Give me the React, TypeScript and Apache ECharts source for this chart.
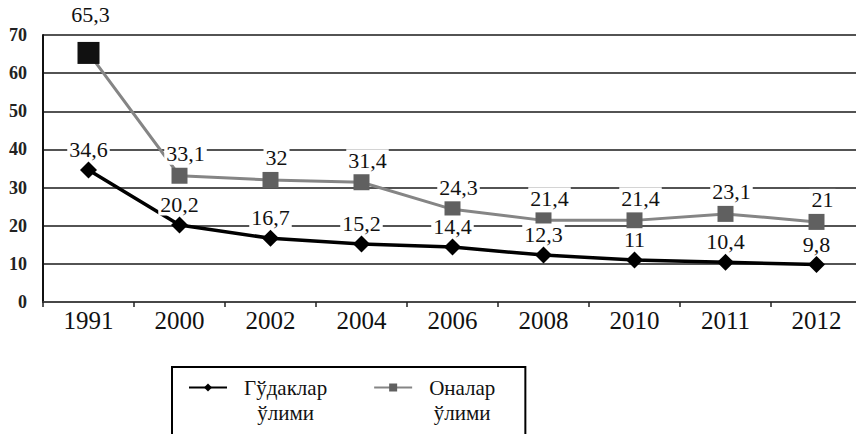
import React, { useEffect, useRef } from "react";
import * as echarts from "echarts";

const years = ["1991", "2000", "2002", "2004", "2006", "2008", "2010", "2011", "2012"];
const infantMortality = [34.6, 20.2, 16.7, 15.2, 14.4, 12.3, 11, 10.4, 9.8];
const maternalMortality = [65.3, 33.1, 32, 31.4, 24.3, 21.4, 21.4, 23.1, 21];
const seriesNames = ["Гўдаклар ўлими", "Оналар ўлими"];
const yTicks = { min: 0, max: 70, interval: 10 };

const FONT = "Liberation Serif";

const fmt = (v: number) => String(v).replace(".", ",");

export default function App() {
  const ref = useRef<HTMLDivElement>(null);
  useEffect(() => {
    if (!ref.current) return;
    const chart = echarts.init(ref.current, null, { renderer: "svg" });
    const labelBase = {
      show: true,
      position: "top" as const,
      fontFamily: FONT,
      fontSize: 22,
      color: "#111",
      backgroundColor: "#fff",
      padding: [0, 2, 0, 2],
      formatter: (p: any) => fmt(p.value),
    };
    chart.setOption({
      animation: false,
      backgroundColor: "#fff",
      grid: { left: 43, right: 2, top: 35, bottom: 140, containLabel: false },
      legend: {
        left: 172,
        top: 367,
        itemWidth: 38,
        itemHeight: 10,
        itemGap: 46,
        borderColor: "#000",
        borderWidth: 2,
        padding: [10, 30, 40, 16],
        data: seriesNames,
        formatter: (name: string) => {
          const parts = name.split(" ");
          return `{a|${parts[0]}}\n{a|${parts[1]}}`;
        },
        textStyle: {
          fontFamily: FONT,
          fontSize: 21,
          color: "#111",
          padding: [25, 0, 0, 12],
          rich: {
            a: { fontFamily: FONT, fontSize: 21, color: "#111", lineHeight: 25, align: "center" },
          },
        },
      },
      xAxis: {
        type: "category",
        data: years,
        boundaryGap: true,
        axisLine: { lineStyle: { color: "#444", width: 1.5 } },
        axisTick: { show: true, inside: false, length: 5, lineStyle: { color: "#222", width: 1.5 } },
        axisLabel: { fontFamily: FONT, fontSize: 25, color: "#111", margin: 6 },
        splitLine: { show: false },
      },
      yAxis: [
        {
          type: "value",
          min: yTicks.min,
          max: yTicks.max,
          interval: yTicks.interval,
          axisLine: { show: true, lineStyle: { color: "#111", width: 2 } },
          axisTick: { show: false },
          axisLabel: { fontFamily: FONT, fontSize: 18, fontWeight: "bold", color: "#222", margin: 16 },
          splitLine: { show: true, lineStyle: { color: "#1a1a1a", width: 1.5 } },
        },
        {
          type: "value",
          position: "right",
          min: yTicks.min,
          max: yTicks.max,
          interval: yTicks.interval,
          axisLine: { show: true, lineStyle: { color: "#999", width: 1 } },
          axisTick: { show: false },
          axisLabel: { show: false },
          splitLine: { show: false },
        },
      ],
      series: [
        {
          name: seriesNames[0],
          type: "line",
          data: infantMortality,
          symbol: "diamond",
          symbolSize: 17,
          lineStyle: { color: "#000", width: 3.5 },
          itemStyle: { color: "#000" },
          label: { ...labelBase, distance: 1 },
          z: 3,
        },
        {
          name: seriesNames[1],
          type: "line",
          data: maternalMortality.map((v, i) =>
            i === 0
              ? {
                  value: v,
                  symbolSize: 22,
                  itemStyle: { color: "#111" },
                  label: { distance: 16, offset: [2, 0] },
                }
              : { value: v }
          ),
          symbol: "rect",
          symbolSize: 16,
          lineStyle: { color: "#858585", width: 3 },
          itemStyle: { color: "#606060" },
          label: { ...labelBase, distance: 3, offset: [6, 0] },
          z: 2,
        },
      ],
    });
    return () => chart.dispose();
  }, []);
  return <div ref={ref} style={{ width: 864, height: 442, margin: -8 }} />;
}
